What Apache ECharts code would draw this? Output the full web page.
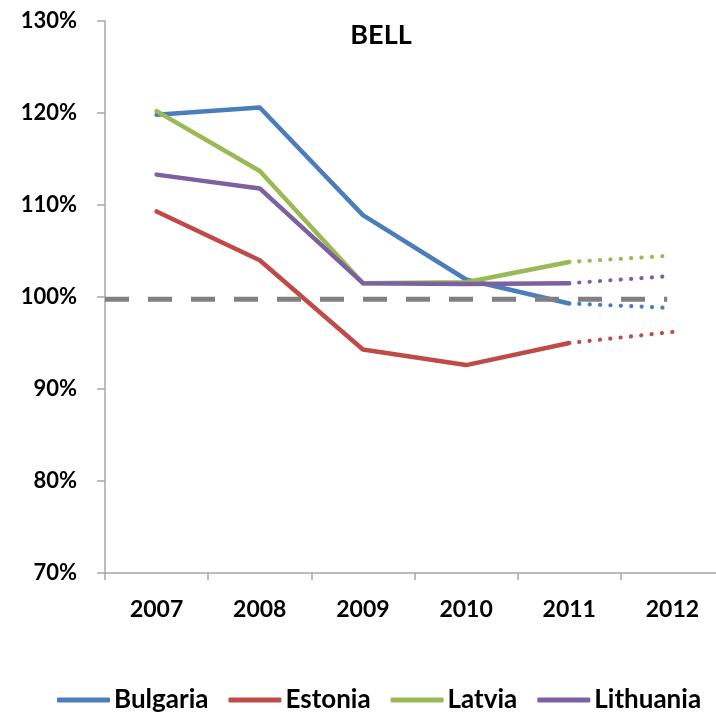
<!DOCTYPE html>
<html><head><meta charset="utf-8">
<script src="https://cdn.jsdelivr.net/npm/echarts@6/dist/echarts.min.js"></script>
<style>html,body{margin:0;padding:0;background:#fff}#c{width:716px;height:716px}</style>
</head><body><div id="c"></div>
<script>
var years = ['2007','2008','2009','2010','2011','2012'];
var countries = ['Bulgaria','Estonia','Latvia','Lithuania'];
var colors = ['#4a7ebb','#be4b48','#98b954','#7d60a0'];
var bulgaria  = [119.8, 120.6, 108.9, 101.9, 99.3, 98.8];
var estonia   = [109.3, 104.0, 94.3, 92.6, 95.0, 96.2];
var latvia    = [120.2, 113.7, 101.5, 101.6, 103.8, 104.5];
var lithuania = [113.3, 111.8, 101.5, 101.4, 101.5, 102.3];
var values = [bulgaria, estonia, latvia, lithuania];
var lastActual = 4; // index of 2011: solid up to here, dotted after
var refLevel = 99.75;
var refSpan = [0, 5.45]; // in category-band units
var yTicks = {min: 70, max: 130, interval: 10};

var FONT = 'Lato, "Open Sans", sans-serif';
var series = [];
values.forEach(function (v, i) {
  series.push({
    name: countries[i], type: 'line', showSymbol: false, symbol: 'none',
    data: v.map(function (x, j) { return j <= lastActual ? x : '-'; }),
    lineStyle: {color: colors[i], width: 4.5, cap: 'round', join: 'round'},
    itemStyle: {color: colors[i]},
    z: 2 + i
  });
  series.push({
    name: countries[i] + ' proj', type: 'line', showSymbol: false, symbol: 'none',
    data: v.map(function (x, j) { return j >= lastActual ? x : '-'; }),
    lineStyle: {color: colors[i], width: 4.2, type: [0.1, 10.3], cap: 'round', dashOffset: -10},
    itemStyle: {color: colors[i]},
    z: 2 + i
  });
});
series.push({
  name: 'ref', type: 'line', xAxisIndex: 1, showSymbol: false, symbol: 'none',
  data: [[refSpan[0], refLevel], [refSpan[1], refLevel]],
  lineStyle: {color: '#808080', width: 5, type: [24, 19]},
  z: 10, silent: true
});

var chart = echarts.init(document.getElementById('c'), null, {renderer: 'canvas'});
chart.setOption({
  animation: false,
  title: {text: 'BELL', left: 376, top: 17, textAlign: 'center',
    textStyle: {fontFamily: FONT, fontWeight: 'bold', fontSize: 27, color: '#000'}},
  grid: {left: 105, top: 21, width: 619, height: 552, containLabel: false, outerBoundsMode: 'none'},
  legend: {
    data: countries, left: 52, top: 682, itemWidth: 53, itemHeight: 5, itemGap: 20,
    icon: 'roundRect',
    textStyle: {fontFamily: FONT, fontSize: 26, fontWeight: 'bold', color: '#000', padding: [0, 0, 0, -1]}
  },
  xAxis: [{
    type: 'category', data: years, boundaryGap: true,
    axisLine: {lineStyle: {color: '#a6a6a6', width: 1.5}},
    axisTick: {show: true, length: 7, interval: 0, lineStyle: {color: '#a6a6a6', width: 1.5}},
    axisLabel: {margin: 25, fontFamily: FONT, fontSize: 23, fontWeight: 'bold', color: '#000'},
    splitLine: {show: false}
  }, {
    type: 'value', min: 0, max: 6, show: false
  }],
  yAxis: {
    type: 'value', min: yTicks.min, max: yTicks.max, interval: yTicks.interval,
    axisLine: {show: true, lineStyle: {color: '#a6a6a6', width: 1.5}},
    axisTick: {show: true, length: 8, lineStyle: {color: '#a6a6a6', width: 1.5}},
    axisLabel: {margin: 28, formatter: '{value}%', fontFamily: FONT, fontSize: 22, fontWeight: 'bold', color: '#000'},
    splitLine: {show: false}
  },
  series: series
});
</script></body></html>
